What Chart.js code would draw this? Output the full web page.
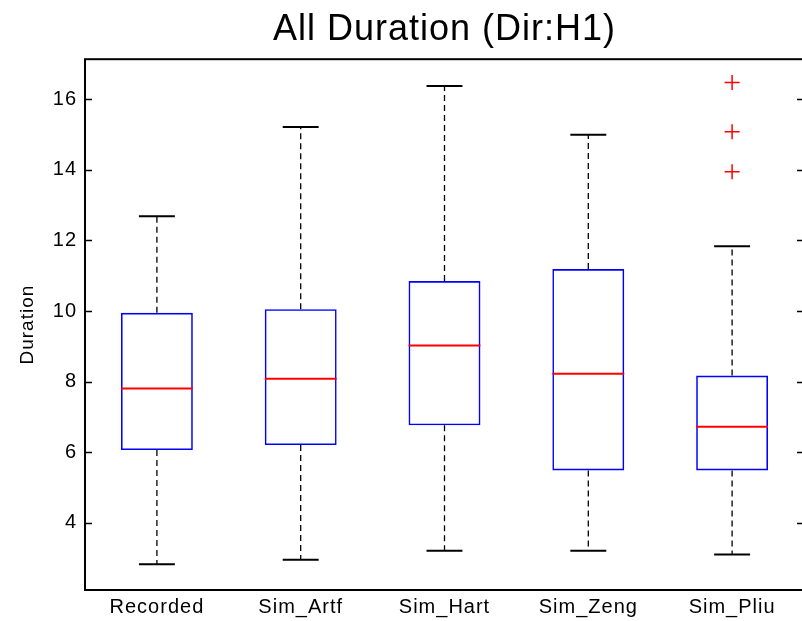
<!DOCTYPE html>
<html>
<head>
<meta charset="utf-8">
<script src="https://cdn.jsdelivr.net/npm/chart.js@4.4.0/dist/chart.umd.min.js"></script>
<style>
    html, body { margin: 0; padding: 0; background: #fff; overflow: hidden; }
    #wrap { width: 802px; height: 621px; overflow: hidden; }
</style>
</head>
<body>
<div id="wrap"><canvas id="boxChart" width="813" height="621"></canvas></div>
<script>
// box plot summary per group
const categories = ['Recorded', 'Sim_Artf', 'Sim_Hart', 'Sim_Zeng', 'Sim_Pliu'];
const lowerWhisker = [2.82, 2.95, 3.20, 3.20, 3.10];
const lowerQuartile = [6.06, 6.20, 6.76, 5.48, 5.48];
const medians = [7.80, 8.08, 9.02, 8.22, 6.72];
const upperQuartile = [9.95, 10.05, 10.85, 11.19, 8.17];
const upperWhisker = [12.69, 15.22, 16.38, 15.00, 11.84];

// outliers (only Sim_Pliu has any)
const outlierGroup = ['Sim_Pliu', 'Sim_Pliu', 'Sim_Pliu'];
const outlierValues = [16.48, 15.08, 13.95];

const yTicks = [4, 6, 8, 10, 12, 14, 16];
const yMin = 2.09;
const yMax = 17.14;

const FONT = '"Liberation Sans", Arial, Helvetica, sans-serif';

// slightly loose glyph spacing for all text
const textSpacing = {
    id: 'textSpacing',
    beforeDraw(chart) {
        chart.ctx.letterSpacing = '1px';
    }
};

// whiskers, caps, medians, axes frame and inward ticks
const boxPlotParts = {
    id: 'boxPlotParts',
    beforeDatasetsDraw(chart) {
        const ctx = chart.ctx;
        const x = chart.scales.x;
        const y = chart.scales.y;
        const step = x.getPixelForValue(1) - x.getPixelForValue(0);
        const capHalf = step * 0.125;
        ctx.save();
        for (let i = 0; i < categories.length; i++) {
            const cx = x.getPixelForValue(i);
            // dashed whiskers
            ctx.strokeStyle = '#000';
            ctx.lineWidth = 1.3;
            ctx.setLineDash([6, 4]);
            ctx.beginPath();
            ctx.moveTo(cx, y.getPixelForValue(upperQuartile[i]));
            ctx.lineTo(cx, y.getPixelForValue(upperWhisker[i]));
            ctx.moveTo(cx, y.getPixelForValue(lowerQuartile[i]));
            ctx.lineTo(cx, y.getPixelForValue(lowerWhisker[i]));
            ctx.stroke();
            // caps
            ctx.setLineDash([]);
            ctx.lineWidth = 2;
            ctx.beginPath();
            const top = y.getPixelForValue(upperWhisker[i]);
            const bot = y.getPixelForValue(lowerWhisker[i]);
            ctx.moveTo(cx - capHalf, top);
            ctx.lineTo(cx + capHalf, top);
            ctx.moveTo(cx - capHalf, bot);
            ctx.lineTo(cx + capHalf, bot);
            ctx.stroke();
        }
        ctx.restore();
    },
    afterDatasetsDraw(chart) {
        const ctx = chart.ctx;
        const x = chart.scales.x;
        const y = chart.scales.y;
        const area = chart.chartArea;
        const step = x.getPixelForValue(1) - x.getPixelForValue(0);
        const boxHalf = step * 0.25;
        ctx.save();
        ctx.strokeStyle = '#ff0000';
        ctx.lineWidth = 2;
        ctx.beginPath();
        for (let i = 0; i < categories.length; i++) {
            const cx = x.getPixelForValue(i);
            const my = y.getPixelForValue(medians[i]);
            ctx.moveTo(cx - boxHalf, my);
            ctx.lineTo(cx + boxHalf, my);
        }
        ctx.stroke();

        // frame
        ctx.strokeStyle = '#000';
        ctx.lineWidth = 2;
        ctx.strokeRect(area.left, area.top, area.right - area.left, area.bottom - area.top);

        // y ticks pointing inwards on both sides
        ctx.lineWidth = 1.5;
        ctx.beginPath();
        yTicks.forEach(v => {
            const py = Math.round(y.getPixelForValue(v)) + 0.5;
            ctx.moveTo(area.left, py);
            ctx.lineTo(area.left + 7, py);
            ctx.moveTo(area.right - 7, py);
            ctx.lineTo(area.right, py);
        });
        ctx.stroke();
        ctx.restore();
    }
};

new Chart(document.getElementById('boxChart').getContext('2d'), {
    type: 'bar',
    data: {
        labels: categories,
        datasets: [{
            label: 'IQR',
            data: categories.map((c, i) => [lowerQuartile[i], upperQuartile[i]]),
            backgroundColor: 'rgba(0,0,0,0)',
            borderColor: '#0000ff',
            borderWidth: 1.6,
            borderSkipped: false,
            barPercentage: 0.5,
            categoryPercentage: 1.0
        }, {
            type: 'line',
            label: 'Outliers',
            data: outlierValues.map((v, i) => ({ x: outlierGroup[i], y: v })),
            showLine: false,
            pointStyle: 'cross',
            pointRadius: 7.5,
            pointBorderWidth: 1.5,
            borderColor: '#ff0000',
            backgroundColor: '#ff0000'
        }]
    },
    options: {
        responsive: false,
        devicePixelRatio: 1,
        animation: false,
        layout: { padding: 0 },
        plugins: {
            legend: { display: false },
            tooltip: { enabled: false },
            title: {
                display: true,
                text: 'All Duration (Dir:H1)',
                fullSize: false,
                color: '#000',
                font: { family: FONT, size: 36, weight: 'normal' },
                padding: { top: 8, bottom: 8 }
            }
        },
        scales: {
            x: {
                type: 'category',
                offset: true,
                grid: { display: false, drawTicks: false },
                border: { display: false },
                ticks: {
                    color: '#000',
                    font: { family: FONT, size: 20 },
                    padding: 5,
                    maxRotation: 0,
                    autoSkip: false
                },
                afterFit: s => { s.height = 31; }
            },
            y: {
                min: yMin,
                max: yMax,
                grid: { display: false, drawTicks: false },
                border: { display: false },
                afterBuildTicks: s => { s.ticks = yTicks.map(v => ({ value: v })); },
                ticks: {
                    color: '#000',
                    font: { family: FONT, size: 20 },
                    padding: 8
                },
                title: {
                    display: true,
                    text: 'Duration',
                    color: '#000',
                    font: { family: FONT, size: 19 },
                    padding: { top: 16, bottom: 0 }
                },
                afterFit: s => { s.width = 85; }
            }
        }
    },
    plugins: [textSpacing, boxPlotParts]
});
</script>
</body>
</html>
